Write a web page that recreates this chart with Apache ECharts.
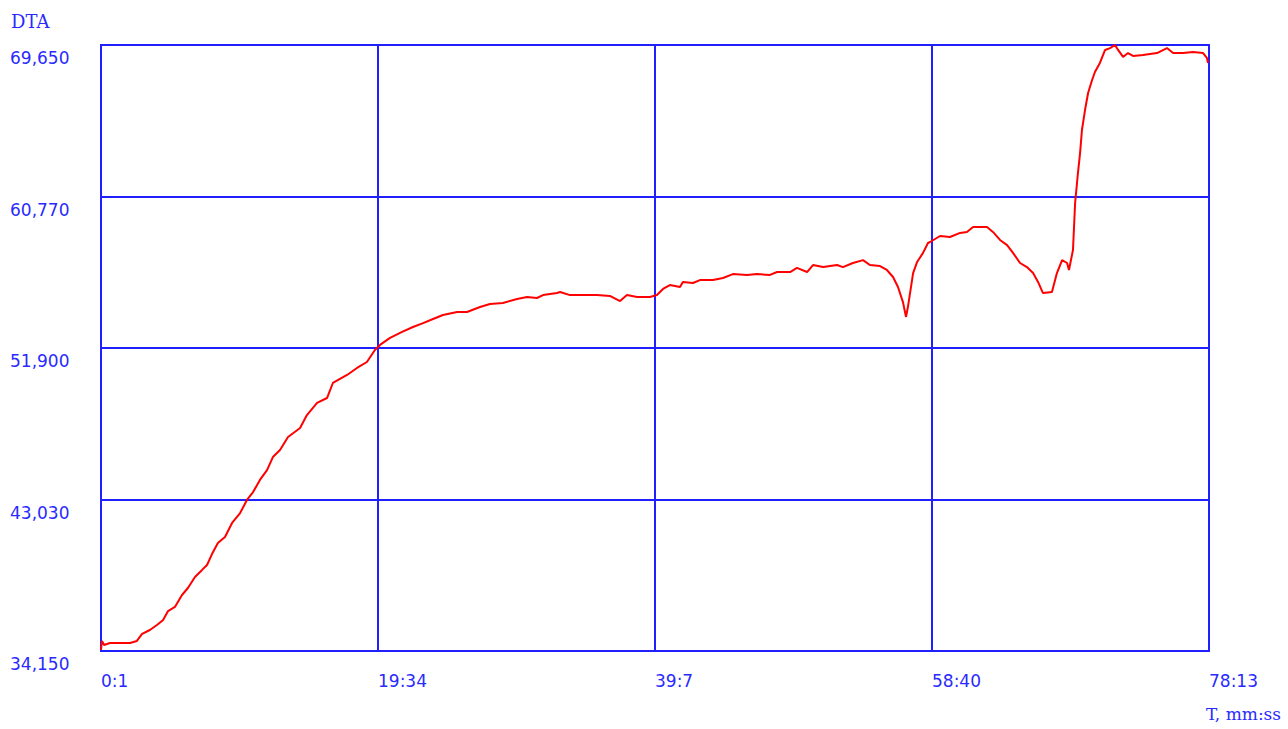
<!DOCTYPE html>
<html>
<head>
<meta charset="utf-8">
<script src="https://cdn.jsdelivr.net/npm/echarts@6/dist/echarts.min.js"></script>
<style>
html,body{margin:0;padding:0;background:#fff;}
#chart{width:1288px;height:729px;}
</style>
</head>
<body>
<div id="chart"></div>
<script>
// Time in seconds (0:01 .. 78:13)
const timeSec = [1,5,14,39,81,124,153,175,208,238,264,285,314,344,369,399,429,450,471,496,526,556,590,619,645,674,704,729,759,793,844,873,916,958,983,1043,1085,1127,1161,1187,1225,1276,1322,1365,1407,1449,1509,1551,1606,1648,1703,1763,1805,1847,1873,1932,1945,1987,2042,2101,2156,2199,2228,2271,2326,2355,2381,2410,2453,2465,2508,2537,2593,2635,2677,2737,2779,2834,2864,2919,2948,2991,3016,3059,3118,3143,3185,3228,3257,3300,3329,3355,3376,3397,3410,3418,3440,3457,3482,3503,3512,3554,3596,3639,3668,3694,3753,3778,3808,3838,3863,3893,3922,3948,3969,3990,4028,4049,4071,4092,4100,4117,4126,4138,4147,4155,4168,4181,4198,4210,4231,4253,4274,4295,4308,4329,4350,4371,4414,4443,4473,4515,4541,4583,4625,4668,4684,4689];
// DTA values
const dtaValues = [34.21,34.74,34.50,34.62,34.62,34.62,34.74,35.15,35.38,35.67,35.97,36.49,36.73,37.43,37.84,38.49,38.90,39.19,39.83,40.48,40.83,41.65,42.23,43.00,43.46,44.17,44.75,45.51,45.92,46.69,47.21,47.97,48.68,48.97,49.85,50.32,50.73,51.08,51.78,52.13,52.49,52.84,53.13,53.36,53.60,53.83,54.01,54.01,54.30,54.48,54.54,54.77,54.89,54.83,55.00,55.12,55.18,55.00,55.00,55.00,54.95,54.65,55.00,54.89,54.89,55.00,55.36,55.59,55.47,55.77,55.71,55.88,55.88,56.00,56.23,56.18,56.23,56.18,56.35,56.35,56.59,56.35,56.76,56.64,56.76,56.64,56.88,57.05,56.76,56.70,56.47,56.06,55.47,54.59,53.72,54.30,56.29,56.94,57.47,58.05,58.11,58.46,58.40,58.64,58.70,58.99,58.99,58.70,58.23,57.93,57.47,56.88,56.64,56.29,55.77,55.12,55.18,56.29,57.05,56.88,56.47,57.64,60.39,62.15,63.32,64.67,65.84,66.84,67.60,68.07,68.60,69.36,69.47,69.65,69.36,68.95,69.18,69.01,69.06,69.12,69.18,69.47,69.18,69.18,69.24,69.18,68.89,68.60];
const xTickLabels = ['0:1','19:34','39:7','58:40','78:13'];
const yTickLabels = ['34,150','43,030','51,900','60,770','69,650'];
const xRange = [1, 4693];
const yRange = [34.15, 69.65];
const yName = 'DTA';
const xName = 'T, mm:ss';

const BLUE = '#2020ff';
const LABEL_BLUE = '#2a2aff';
const chart = echarts.init(document.getElementById('chart'), null, {renderer: 'svg'});
const seriesData = timeSec.map((t, i) => [t, dtaValues[i]]);

chart.setOption({
  animation: false,
  backgroundColor: '#ffffff',
  grid: {left: 101, right: 79, top: 45, bottom: 78, show: true, borderColor: BLUE, borderWidth: 2, backgroundColor: 'transparent'},
  graphic: [
    {type: 'text', left: 11, top: 12, style: {text: yName, fill: LABEL_BLUE, font: '18px "DejaVu Serif"'}},
    {type: 'text', left: 1206, top: 705, style: {text: xName, fill: LABEL_BLUE, font: '17px "DejaVu Serif"'}}
  ],
  xAxis: [
    {
      type: 'value', min: 0, max: 4, interval: 1,
      axisLine: {show: true, lineStyle: {color: BLUE, width: 2}},
      axisTick: {show: false},
      splitLine: {show: true, lineStyle: {color: BLUE, width: 2}},
      axisLabel: {
        color: LABEL_BLUE, fontFamily: 'DejaVu Sans', fontSize: 17, align: 'left', margin: 21,
        showMinLabel: true, showMaxLabel: true,
        formatter: v => xTickLabels[Math.round(v)]
      }
    },
    {type: 'value', min: xRange[0], max: xRange[1], show: false, splitLine: {show: false}}
  ],
  yAxis: [
    {
      type: 'value', min: 0, max: 4, interval: 1,
      axisLine: {show: true, lineStyle: {color: BLUE, width: 2}},
      axisTick: {show: false},
      splitLine: {show: true, lineStyle: {color: BLUE, width: 2}},
      axisLabel: {
        color: LABEL_BLUE, fontFamily: 'DejaVu Sans', fontSize: 17, align: 'left', margin: 91,
        verticalAlign: 'top', lineHeight: 26,
        showMinLabel: true, showMaxLabel: true,
        formatter: v => yTickLabels[Math.round(v)]
      }
    },
    {type: 'value', min: yRange[0], max: yRange[1], show: false, splitLine: {show: false}}
  ],
  series: [{
    type: 'line',
    xAxisIndex: 1,
    yAxisIndex: 1,
    data: seriesData,
    showSymbol: false,
    smooth: false,
    lineStyle: {color: '#ff0000', width: 2},
    clip: false
  }]
});
</script>
</body>
</html>
